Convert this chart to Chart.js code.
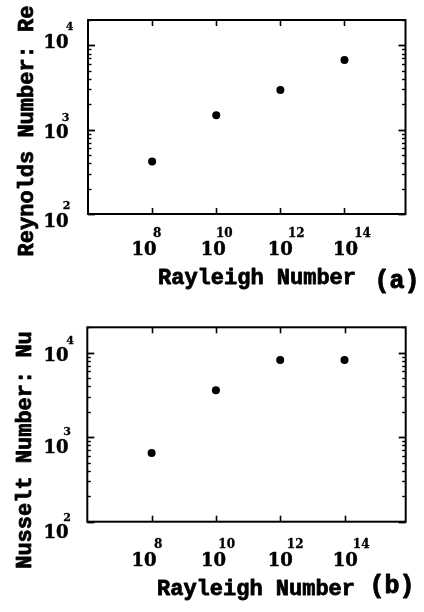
<!DOCTYPE html>
<html>
<head>
<meta charset="utf-8">
<script src="https://cdn.jsdelivr.net/npm/chart.js"></script>
<style>
  html, body { margin: 0; padding: 0; background: #fff; }
  #wrap { position: relative; width: 424px; height: 612px; overflow: hidden; }
  canvas { position: absolute; left: 0; }
  #c1 { top: 0; }
  #c2 { top: 306px; }
</style>
</head>
<body>
<div id="wrap">
  <canvas id="c1" width="424" height="306"></canvas>
  <canvas id="c2" width="424" height="306"></canvas>
</div>
<script>
// ---- data ----
const rayleigh = [1e8, 1e10, 1e12, 1e14];
const reynolds = [420, 1480, 2950, 6700];
const nusselt  = [650, 3600, 8200, 8200];
const xTickExps = [8, 10, 12, 14];
const yTickExps = [2, 3, 4];
const xTitle = 'Rayleigh Number';
const yTitles = ['Reynolds Number: Re', 'Nusselt Number: Nu'];
const panelLabels = ['(a)', '(b)'];

const FONT = '"Liberation Mono", "Courier New", monospace';
const NUMFONT = '"DejaVu Serif", "Liberation Serif", serif';

function boldText(ctx, txt, x, y, w) {
  ctx.lineWidth = w;
  ctx.lineJoin = 'round';
  ctx.strokeText(txt, x, y);
  ctx.fillText(txt, x, y);
}

function makeFramePlugin(L) {
  return {
    id: 'sciFrame',
    afterDraw(chart) {
      const ctx = chart.ctx;
      const { left, right, top, bottom } = chart.chartArea;
      const xs = chart.scales.x, ys = chart.scales.y;
      ctx.save();
      ctx.strokeStyle = '#000';
      ctx.fillStyle = '#000';
      // frame
      ctx.lineWidth = 2;
      ctx.strokeRect(left, top, right - left, bottom - top);
      const line = (x1, y1, x2, y2) => { ctx.beginPath(); ctx.moveTo(x1, y1); ctx.lineTo(x2, y2); ctx.stroke(); };
      // x major ticks (top and bottom, inward)
      ctx.lineWidth = 1.6;
      xTickExps.forEach(e => {
        const px = Math.round(xs.getPixelForValue(Math.pow(10, e))) + 0.5;
        line(px, top, px, top + 6);
        line(px, bottom, px, bottom - 6);
      });
      // y ticks: major + minor, both sides inward
      for (let d = 1; d <= 5; d++) {
        for (let m = 1; m <= 9; m++) {
          const v = m * Math.pow(10, d);
          if (v < ys.min * 0.999 || v > ys.max * 1.001) continue;
          const py = Math.round(ys.getPixelForValue(v)) + 0.5;
          const len = m === 1 ? 7 : 3.5;
          ctx.lineWidth = m === 1 ? 1.8 : 1.4;
          line(left, py, left + len, py);
          line(right, py, right - len, py);
        }
      }
      // y tick labels
      ctx.textBaseline = 'middle';
      ctx.textAlign = 'center';
      yTickExps.forEach(e => {
        const py = ys.getPixelForValue(Math.pow(10, e));
        const cy = py + L.yLabDy[e];
        ctx.font = 'bold 18px ' + NUMFONT;
        boldText(ctx, '10', L.yLabCx, cy, 0.5);
        ctx.font = 'bold 11px ' + NUMFONT;
        boldText(ctx, String(e), L.yLabCx + L.ySupDx[e], cy - 16, 0.3);
      });
      // x tick labels
      xTickExps.forEach(e => {
        const px = xs.getPixelForValue(Math.pow(10, e));
        ctx.font = 'bold 18px ' + NUMFONT;
        boldText(ctx, '10', px + L.xLabDx[e], bottom + L.xLabDy, 0.5);
        ctx.font = 'bold 12px ' + NUMFONT;
        boldText(ctx, String(e), px + L.xSupDx[e], bottom + L.xSupDy, 0.3);
      });
      // x title
      ctx.font = 'bold 22px ' + FONT;
      ctx.textBaseline = 'alphabetic';
      boldText(ctx, xTitle, L.xTitleX, L.xTitleY, 0.8);
      // panel label
      ctx.font = 'bold 25px ' + FONT;
      ctx.textBaseline = 'middle';
      boldText(ctx, L.panel, L.panelX, L.panelY, 0.9);
      // y title (rotated)
      ctx.save();
      ctx.translate(L.yTitleX, L.yTitleY);
      ctx.rotate(-Math.PI / 2);
      ctx.font = 'bold 22px ' + FONT;
      ctx.textAlign = 'center';
      ctx.textBaseline = 'middle';
      boldText(ctx, L.yTitle, 0, 0, 0.8);
      ctx.restore();
      ctx.restore();
    }
  };
}

function makeChart(id, values, L) {
  const pts = rayleigh.map((r, i) => ({ x: r, y: values[i] }));
  return new Chart(document.getElementById(id), {
    type: 'scatter',
    data: {
      datasets: [{
        data: pts,
        pointRadius: 4,
        pointBackgroundColor: '#000',
        pointBorderWidth: 0,
        pointBorderColor: '#000'
      }]
    },
    options: {
      responsive: false,
      animation: false,
      layout: { padding: L.padding },
      plugins: { legend: { display: false }, tooltip: { enabled: false } },
      scales: {
        x: { type: 'logarithmic', min: 1e6, max: 8e15, display: false },
        y: { type: 'logarithmic', min: 100, max: 20000, display: false }
      }
    },
    plugins: [makeFramePlugin(L)]
  });
}

makeChart('c1', reynolds, {
  padding: { left: 88, right: 18.5, top: 20, bottom: 92 },
  yTitle: yTitles[0], yTitleX: 27, yTitleY: 131,
  yLabCx: 56, yLabDy: { 4: -2, 3: 4, 2: 8 }, ySupDx: { 4: 13.5, 3: 9.5, 2: 10.5 },
  xLabDx: { 8: -8, 10: -3, 12: 0, 14: 1 }, xSupDx: { 8: 5, 10: 8, 12: 16, 14: 18 },
  xLabDy: 36, xSupDy: 20,
  xTitleX: 257, xTitleY: 283.5,
  panel: panelLabels[0], panelX: 397, panelY: 282
});

makeChart('c2', nusselt, {
  padding: { left: 87.3, right: 18.3, top: 21.3, bottom: 90.3 },
  yTitle: yTitles[1], yTitleX: 25, yTitleY: 144,
  yLabCx: 56, yLabDy: { 4: 4, 3: 11, 2: 12 }, ySupDx: { 4: 14, 3: 11, 2: 11 },
  xLabDx: { 8: -7.7, 10: -2.4, 12: 0, 14: 0.7 }, xSupDx: { 8: 6.5, 10: 10.8, 12: 15, 14: 16.7 },
  xLabDy: 40, xSupDy: 23,
  xTitleX: 256, xTitleY: 289,
  panel: panelLabels[1], panelX: 392, panelY: 280.5
});
</script>
</body>
</html>
